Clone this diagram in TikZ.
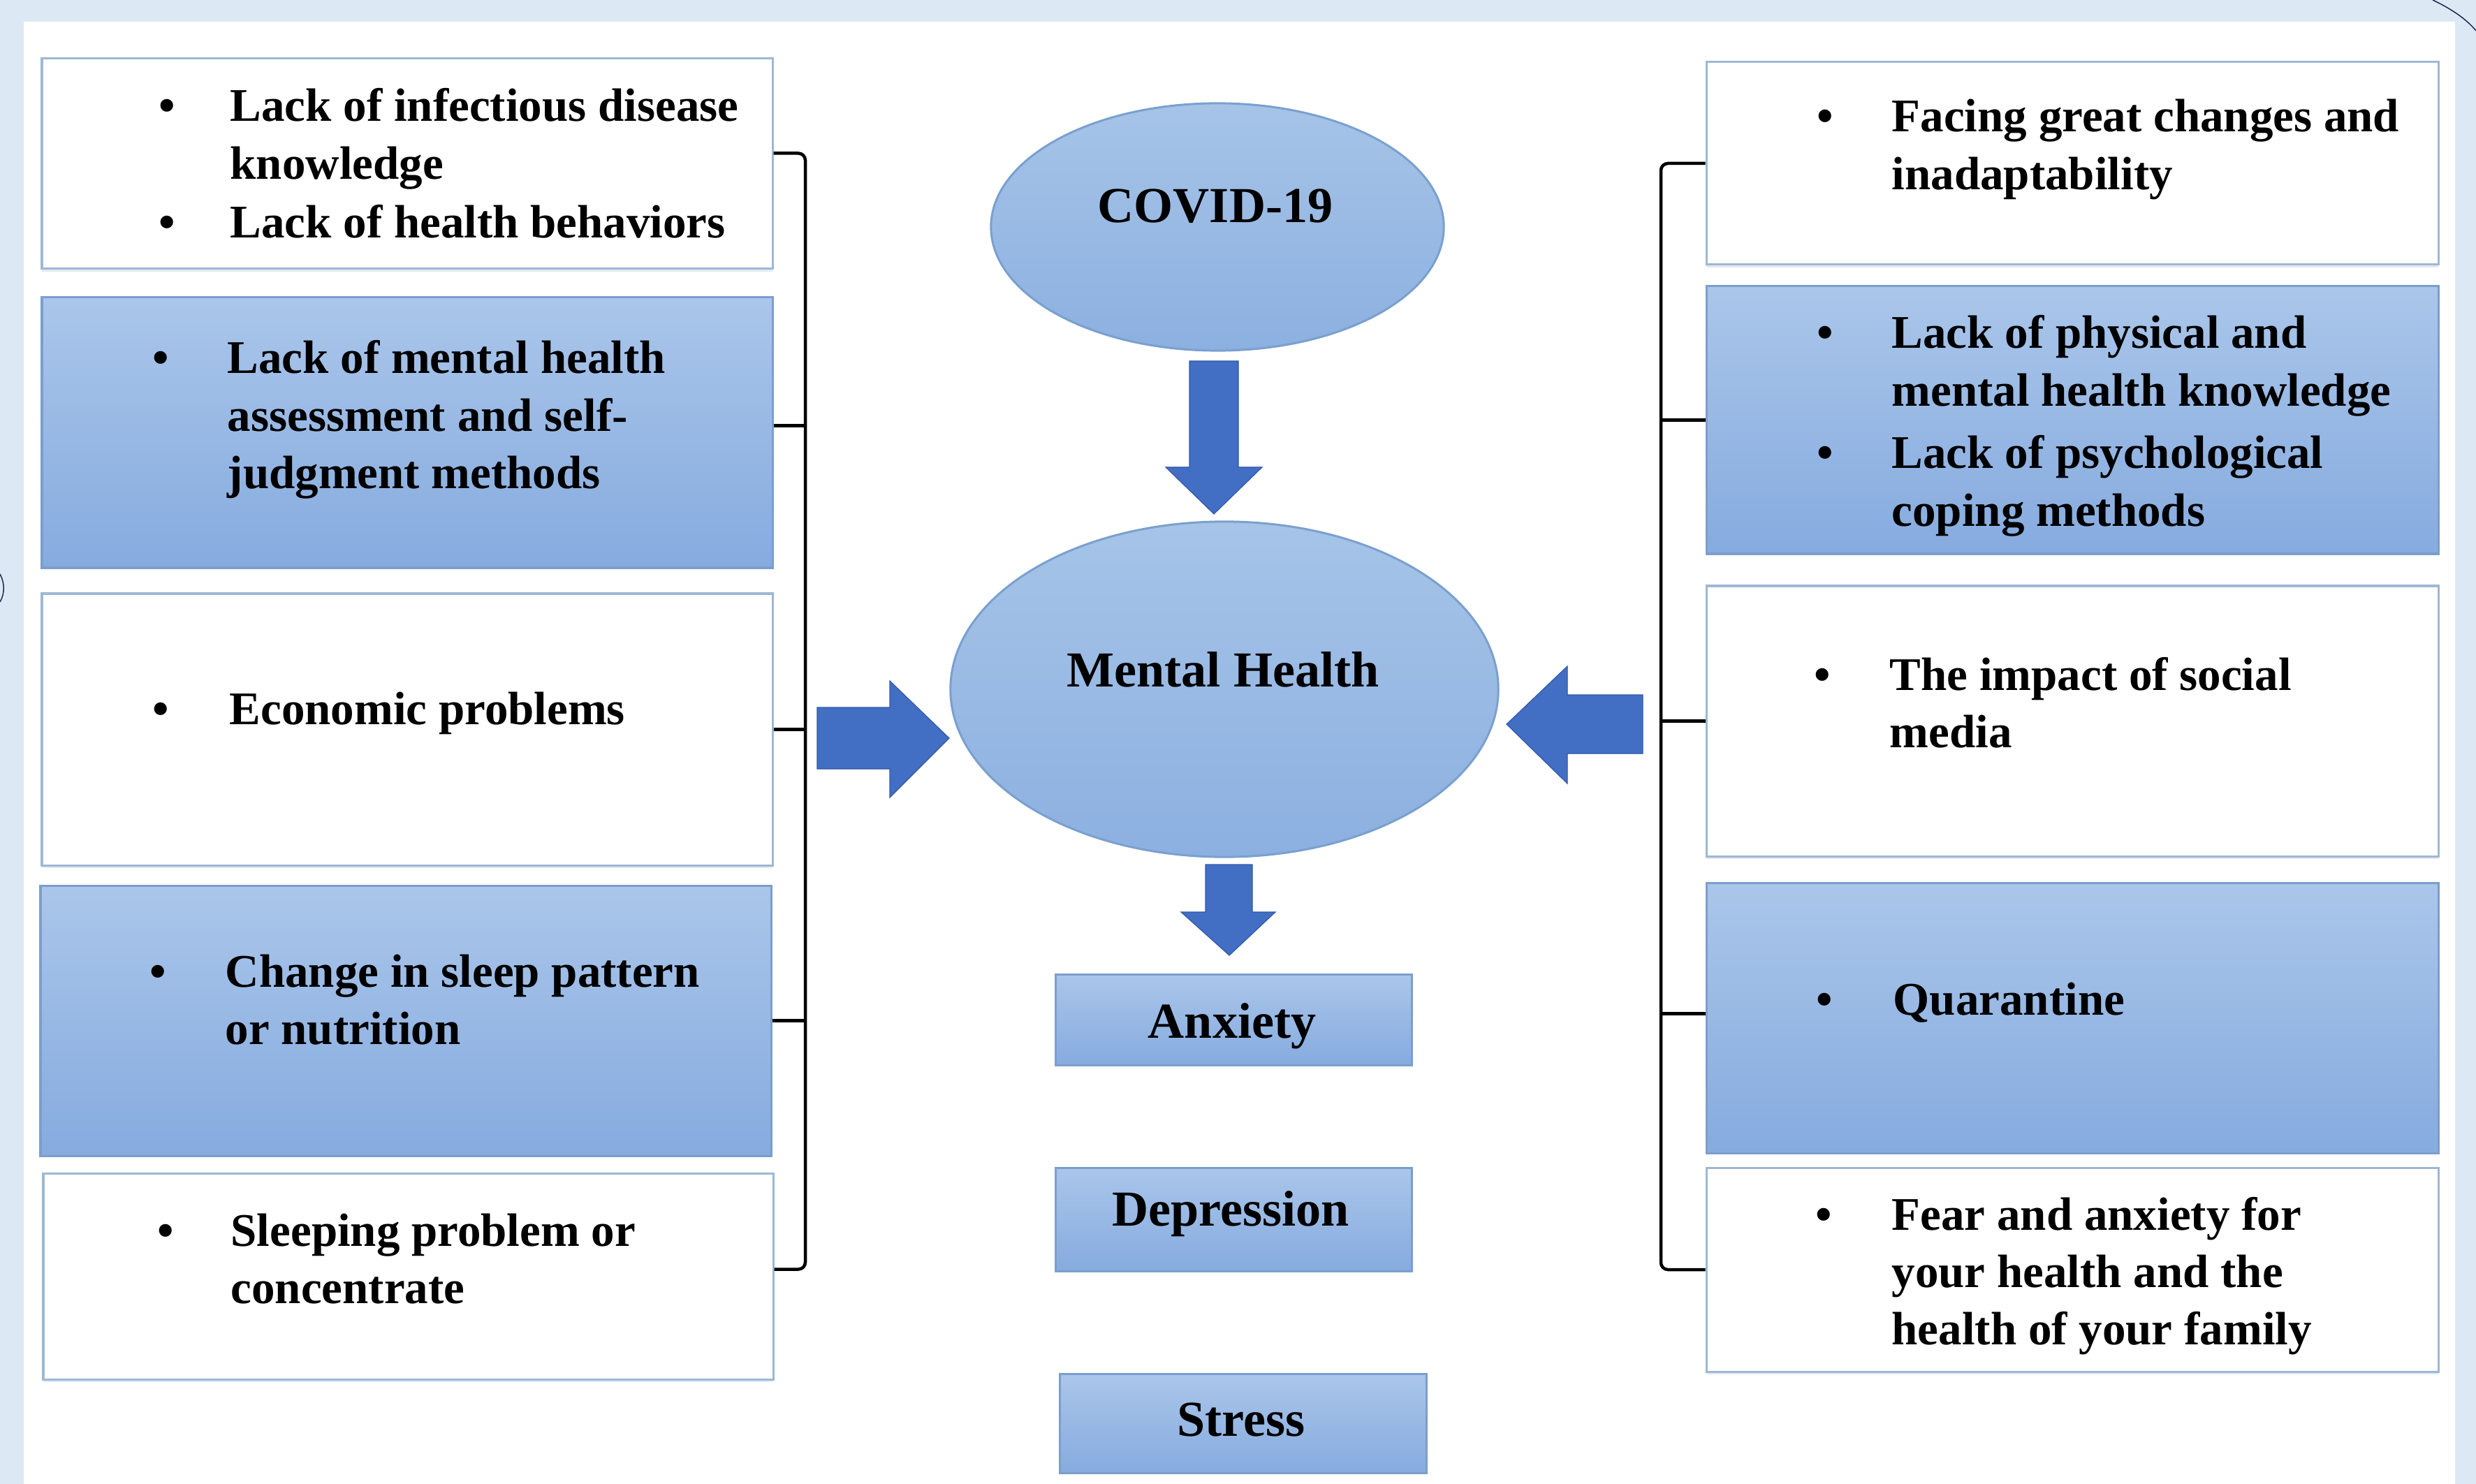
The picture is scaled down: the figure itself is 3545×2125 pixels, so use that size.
\documentclass[tikz,border=0pt]{standalone}
\usepackage{fontspec}
\setmainfont{Liberation Serif}
\usetikzlibrary{shapes.geometric,fit,shadows}
\definecolor{bgblue}{RGB}{220,232,244}
\definecolor{boxline}{RGB}{158,184,212}
\definecolor{blueline}{RGB}{124,158,204}
\definecolor{bluetop}{RGB}{170,198,234}
\definecolor{bluebot}{RGB}{134,171,223}
\definecolor{elltop}{RGB}{166,196,232}
\definecolor{ellbot}{RGB}{140,176,224}
\definecolor{arrowblue}{RGB}{66,110,196}
\definecolor{arrowline}{RGB}{50,88,168}
\definecolor{ellline}{RGB}{122,160,206}
\definecolor{navy}{RGB}{30,40,80}
\newcommand\mylines[1]{\begin{tabular}[t]{@{}l@{}}#1\end{tabular}}
\begin{document}
\begin{tikzpicture}[x=0.01cm,y=-0.01cm,
  whitebox/.style={draw=boxline,line width=0.03cm,fill=white,inner sep=0pt,
    drop shadow={shadow xshift=0pt,shadow yshift=-0.04cm,opacity=0.3,fill=boxline}},
  bluebox/.style={draw=blueline,line width=0.03cm,top color=bluetop,bottom color=bluebot,inner sep=0pt},
  ellnode/.style={ellipse,draw=ellline,line width=0.03cm,top color=elltop,bottom color=ellbot,inner sep=0pt},
  itemtext/.style={anchor=base west,inner sep=0pt,
    font={\fontsize{19.05pt}{23.4pt}\selectfont\bfseries}},
  bul/.style={anchor=base,inner sep=0pt,font={\fontsize{19.05pt}{23.4pt}\selectfont\bfseries}},
  lbl/.style={anchor=base,inner sep=0pt,font={\fontsize{20.5pt}{24pt}\selectfont\bfseries}},
  bracket/.style={draw=black,line width=0.045cm,rounded corners=0.1cm},
  blockarrow/.style={fill=arrowblue,draw=arrowline,line width=0.012cm}]
\useasboundingbox (0,0) rectangle (3545,2125);
\fill[bgblue] (0,0) rectangle (3545,2125);
\fill[white] (34,31) rectangle (3515,2125);
\draw[navy,line width=0.015cm] (3483,0) .. controls (3508,12) and (3530,26) .. (3545,44);
\draw[navy,line width=0.015cm] (0,822) .. controls (7,835) and (7,850) .. (0,862);
% left boxes
\node[whitebox,fit={(60,84)(1106,385)}] (L1) {};
\node[bluebox,fit={(60,426)(1106,813)}] (L2) {};
\node[whitebox,fit={(60,850)(1106,1239)}] (L3) {};
\node[bluebox,fit={(58,1268)(1104,1655)}] (L4) {};
\node[whitebox,fit={(62,1680)(1107,1975)}] (L5) {};
% right boxes
\node[whitebox,fit={(2443,89)(3491,379)}] (R1) {};
\node[bluebox,fit={(2443,410)(3491,793)}] (R2) {};
\node[whitebox,fit={(2443,839)(3491,1226)}] (R3) {};
\node[bluebox,fit={(2443,1264)(3491,1651)}] (R4) {};
\node[whitebox,fit={(2443,1672)(3491,1964)}] (R5) {};
% left texts
\node[bul] (b1a) at (239,174) {\textbullet};
\node[itemtext] (t1a) at (329,174) {\mylines{Lack of infectious disease\\knowledge}};
\node[bul] (b1b) at (239,341) {\textbullet};
\node[itemtext] (t1b) at (329,341) {Lack of health behaviors};
\node[bul] (b2) at (230,535) {\textbullet};
\node[itemtext] (t2) at (325,535) {\mylines{Lack of mental health\\assessment and self-\\judgment methods}};
\node[bul] (b3) at (230,1037) {\textbullet};
\node[itemtext] (t3) at (328,1037) {Economic problems};
\node[bul] (b4) at (226,1413) {\textbullet};
\node[itemtext] (t4) at (322,1413) {\mylines{Change in sleep pattern\\or nutrition}};
\node[bul] (b5) at (237,1784) {\textbullet};
\node[itemtext] (t5) at (330,1784) {\mylines{Sleeping problem or\\concentrate}};
% right texts
\node[bul] (c1) at (2613,189) {\textbullet};
\node[itemtext] (s1) at (2708,189) {\mylines{Facing great changes and\\inadaptability}};
\node[bul] (c2a) at (2613,499) {\textbullet};
\node[itemtext] (s2a) at (2708,499) {\mylines{Lack of physical and\\mental health knowledge}};
\node[bul] (c2b) at (2613,671) {\textbullet};
\node[itemtext] (s2b) at (2708,671) {\mylines{Lack of psychological\\coping methods}};
\node[bul] (c3) at (2609,988) {\textbullet};
\node[itemtext] (s3) at (2705,988) {\mylines{The impact of social\\media}};
\node[bul] (c4) at (2612,1453) {\textbullet};
\node[itemtext] (s4) at (2710,1453) {Quarantine};
\node[bul] (c5) at (2611,1761) {\textbullet};
\node[itemtext] (s5) at (2708,1761) {\mylines{Fear and anxiety for\\your health and the\\health of your family}};
% brackets
\coordinate (lbar) at (1153,0);
\coordinate (rbar) at (2378,0);
\draw[bracket] ([yshift=0.15cm]L1.east) -- ([yshift=0.15cm]L1.east -| lbar) -- ([yshift=0.1cm]L5.east -| lbar) -- ([yshift=0.1cm]L5.east);
\draw[bracket] ([yshift=0.1cm]L2.east) -- ([yshift=0.1cm]L2.east -| lbar);
\draw[bracket] (L3.east) -- (L3.east -| lbar);
\draw[bracket] (L4.east) -- (L4.east -| lbar);
\draw[bracket] (R1.west) -- (R1.west -| rbar) -- (R5.west -| rbar) -- (R5.west);
\draw[bracket] (R2.west) -- (R2.west -| rbar);
\draw[bracket] (R3.west) -- (R3.west -| rbar);
\draw[bracket] ([yshift=0.06cm]R4.west) -- ([yshift=0.06cm]R4.west -| rbar);
% centre
\node[ellnode,minimum width=6.48cm,minimum height=3.54cm] (covid) at (1743,325) {};
\node[lbl] (covidt) at (1740,319) {COVID-19};
\node[ellnode,minimum width=7.84cm,minimum height=4.80cm] (mh) at (1753,987) {};
\node[lbl] (mht) at (1751,983) {Mental Health};
\node[bluebox,fit={(1511,1395)(2021,1525)}] (anx) {};
\node[lbl] (anxt) at (1764,1486) {Anxiety};
\node[bluebox,fit={(1511,1672)(2021,1820)}] (dep) {};
\node[lbl] (dept) at (1762,1755) {Depression};
\node[bluebox,fit={(1517,1967)(2042,2109)}] (str) {};
\node[lbl] (strt) at (1777,2056) {Stress};
% block arrows
\draw[blockarrow] (1703,517) -- (1773,517) -- (1773,669) -- (1807,669) -- (1738,736) -- (1669,669) -- (1703,669) -- cycle;
\draw[blockarrow] (1726,1238) -- (1793,1238) -- (1793,1306) -- (1826,1306) -- (1760,1368) -- (1691,1306) -- (1726,1306) -- cycle;
\draw[blockarrow] (1170,1013) -- (1274,1013) -- (1274,975) -- (1359,1057) -- (1274,1142) -- (1274,1101) -- (1170,1101) -- cycle;
\draw[blockarrow] (2352,995) -- (2244,995) -- (2244,954) -- (2157,1037) -- (2244,1122) -- (2244,1079) -- (2352,1079) -- cycle;
\end{tikzpicture}
\end{document}
